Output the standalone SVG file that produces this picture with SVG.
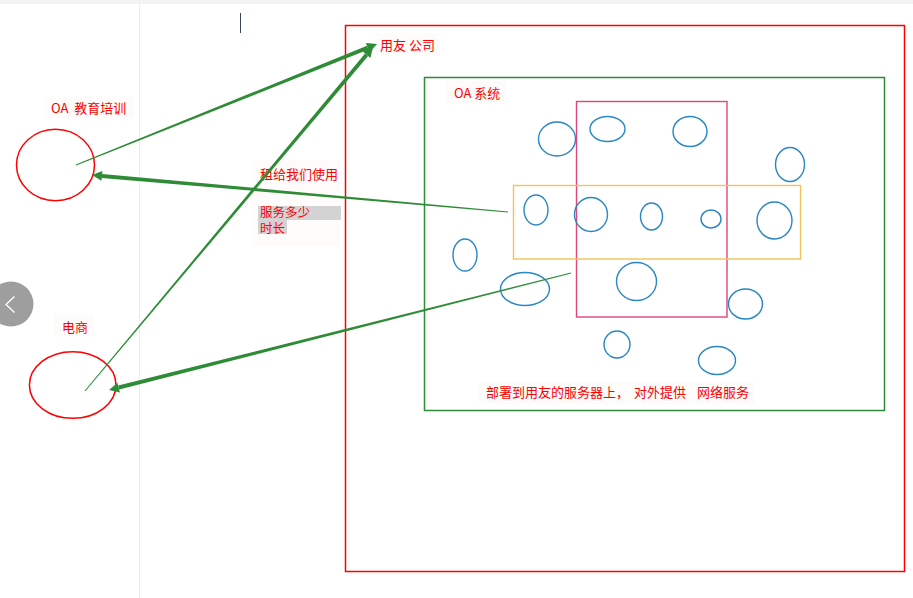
<svg xmlns="http://www.w3.org/2000/svg" width="913" height="598" viewBox="0 0 913 598">
<style>
  .t { font-family: "Noto Sans CJK SC", "Noto Sans", "Liberation Sans", sans-serif; font-size: 13px; fill: #ff0000; }
  .small { font-size: 12.5px; }
  .blue { fill: none; stroke: #2a86c4; stroke-width: 1.4; }
  .redshape { fill: none; stroke: #ff0000; stroke-width: 1.5; }
  .conn { fill: #2e8b36; stroke: none; }
  .labelbg { fill: #fdfcfa; }
</style>
<rect x="0" y="0" width="913" height="598" fill="#ffffff"/>
<rect x="0" y="0" width="913" height="4" fill="#f3f3f3"/>
<line x1="139.5" y1="4" x2="139.5" y2="598" stroke="#ececec" stroke-width="1"/>
<line x1="240.5" y1="13" x2="240.5" y2="33" stroke="#3a4556" stroke-width="1"/>

<g id="nav-button">
  <circle cx="11" cy="304" r="22.5" fill="#9e9e9e"/>
  <polyline points="14.5,296.5 6,304.5 14.5,312.5" fill="none" stroke="#ffffff" stroke-width="1.3"/>
</g>

<g id="yonyou-company">
  <rect x="345.5" y="25.5" width="559" height="546" class="redshape"/>
  <rect x="376" y="33" width="62" height="22" class="labelbg"/>
  <text x="380" y="50" class="t">用友 公司</text>
</g>

<g id="oa-system">
  <rect x="424.5" y="77.5" width="460" height="333" fill="none" stroke="#2e8b36" stroke-width="1.5"/>
  <rect x="447" y="81" width="58" height="22" class="labelbg"/>
  <text x="454" y="98" class="t">OA 系统</text>
</g>

<g id="pink-box">
  <rect x="576.5" y="101.5" width="150.5" height="215.5" fill="none" stroke="#e0457b" stroke-width="1.4"/>
</g>
<g id="orange-box">
  <rect x="513.5" y="185.5" width="287" height="73.5" fill="none" stroke="#f5c15a" stroke-width="1.4"/>
</g>

<g id="servers">
  <ellipse cx="557" cy="139" rx="18.5" ry="17" class="blue"/>
  <ellipse cx="607.5" cy="129" rx="17.5" ry="12.5" class="blue"/>
  <ellipse cx="690" cy="131.5" rx="17" ry="15" class="blue"/>
  <ellipse cx="790" cy="164.5" rx="14.5" ry="17" class="blue"/>
  <ellipse cx="536" cy="210" rx="12" ry="15" class="blue"/>
  <ellipse cx="591" cy="214.5" rx="16.5" ry="17" class="blue"/>
  <ellipse cx="651.5" cy="216.5" rx="11" ry="13.5" class="blue"/>
  <ellipse cx="711" cy="219" rx="10" ry="9" class="blue"/>
  <ellipse cx="774.5" cy="220.5" rx="17.5" ry="18.5" class="blue"/>
  <ellipse cx="465" cy="255" rx="12" ry="16" class="blue"/>
  <ellipse cx="525" cy="289" rx="24.5" ry="16.5" class="blue"/>
  <ellipse cx="636.5" cy="281.5" rx="20" ry="19" class="blue"/>
  <ellipse cx="745.5" cy="304" rx="17" ry="15" class="blue"/>
  <ellipse cx="617" cy="344.5" rx="13" ry="13.5" class="blue"/>
  <ellipse cx="717" cy="360.5" rx="18.5" ry="14" class="blue"/>
</g>

<g id="deploy-label">
  <rect x="479" y="382" width="276" height="22" class="labelbg"/>
  <text y="397" class="t"><tspan x="486">部署到用友的服务器上，</tspan><tspan x="634">对外提供</tspan><tspan x="697">网络服务</tspan></text>
</g>

<g id="oa-education">
  <rect x="44" y="97" width="90" height="21" class="labelbg"/>
  <text x="51" y="113" class="t" xml:space="preserve">OA  教育培训</text>
  <ellipse cx="55.5" cy="165" rx="39" ry="35.7" class="redshape"/>
</g>

<g id="ecommerce">
  <rect x="54" y="315" width="40" height="22" class="labelbg"/>
  <text x="62" y="332" class="t">电商</text>
  <ellipse cx="72.7" cy="385" rx="43.3" ry="33.3" class="redshape"/>
</g>

<g id="rent-label">
  <rect x="252" y="160" width="88" height="86" class="labelbg"/>
  <text x="260" y="179" class="t">租给我们使用</text>
  <rect x="258" y="206" width="83" height="14" fill="#d3d3d3"/>
  <rect x="258" y="220" width="29" height="14" fill="#d3d3d3"/>
  <text class="t small"><tspan x="260" y="217">服务多少</tspan><tspan x="260" y="233">时长</tspan></text>
</g>

<g id="connectors">
  <polygon class="conn" points="76.19,165.46 368.47,49.59 366.97,45.87 75.81,164.54"/>
  <polygon class="conn" points="377,44 369.59,52.37 365.86,43.09"/>
  <polygon class="conn" points="85.38,391.32 368.11,55.95 365.05,53.39 84.62,390.68"/>
  <polygon class="conn" points="373,47 370.41,57.88 362.75,51.46"/>
  <polygon class="conn" points="508.05,211.40 102.14,173.90 101.78,177.88 507.95,212.60"/>
  <polygon class="conn" points="92,175 102.40,170.91 101.52,180.87"/>
  <polygon class="conn" points="571.15,273.58 119.18,389.49 118.20,385.61 570.85,272.42"/>
  <polygon class="conn" points="109,390 119.92,392.40 117.46,382.70"/>
</g>
</svg>
